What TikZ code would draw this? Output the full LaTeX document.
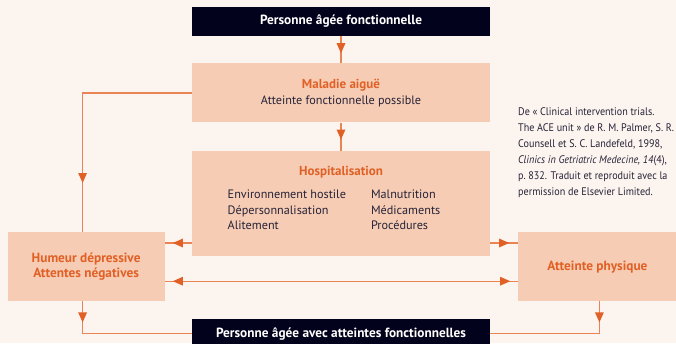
\documentclass[tikz,border=0pt]{standalone}
\usepackage{fontspec}
\setmainfont{PT Sans}
\newfontfamily\citefont[FakeStretch=0.92]{PT Sans}
\usepackage{tikz}
\usetikzlibrary{arrows.meta,positioning,calc,decorations.markings}
\definecolor{bgcream}{RGB}{252,244,238}
\definecolor{peach}{RGB}{246,205,180}
\definecolor{myorange}{RGB}{224,96,38}
\definecolor{lineorange}{RGB}{234,132,84}
\definecolor{mynavy}{RGB}{2,2,28}
\definecolor{inkgray}{RGB}{38,34,56}
\tikzset{
    line/.style    = {draw=lineorange, line width=1.2pt},
    tipat/.style   = {postaction={decorate}, decoration={markings,
            mark=at position #1 with {\arrow{Triangle[length=10pt,width=8.5pt,color=myorange]}}}},
    twotips/.style = {postaction={decorate}, decoration={markings,
            mark=at position 8pt with {\arrowreversed{Triangle[length=10pt,width=8.5pt,color=myorange]}},
            mark=at position -8pt with {\arrow{Triangle[length=10pt,width=8.5pt,color=myorange]}}}},
    darkbox/.style = {fill=mynavy, text=white, font=\fontsize{13.3pt}{15pt}\selectfont\bfseries,
            minimum width=298pt, minimum height=29pt, inner sep=0pt},
    block/.style   = {fill=peach, text=inkgray, align=center,
            minimum width=298pt, inner sep=0pt},
    sidebox/.style = {fill=peach, text=myorange, font=\fontsize{13.3pt}{15pt}\selectfont\bfseries,
            align=center, minimum width=157pt, minimum height=69pt, inner sep=0pt},
}
\newcommand{\boxtitle}[1]{\textcolor{myorange}{\fontsize{13pt}{15pt}\selectfont\bfseries #1}}

\begin{document}
\begin{tikzpicture}[font=\fontsize{12.2pt}{15.4pt}\selectfont]
    % background and page size
    \fill[bgcream] (0,0) rectangle (676pt,-343pt);
    \useasboundingbox (0,0) rectangle (676pt,-343pt);

    % Nodes
    \node[darkbox] (elder) at (341pt,-21.5pt) {Personne âgée fonctionnelle};
    \node[block, minimum height=59pt, below=27pt of elder] (acute)
        {\boxtitle{Maladie aiguë}\\Atteinte fonctionnelle possible};
    \node[block, minimum height=105pt, below=28pt of acute] (hosp)
        {\boxtitle{Hospitalisation}\\[9pt]
         \begin{tabular}{@{}l@{\hspace{25pt}}l@{\hspace{14pt}}}
             Environnement hostile & Malnutrition\\
             Dépersonnalisation    & Médicaments\\
             Alitement             & Procédures\rule[-11pt]{0pt}{11pt}
         \end{tabular}};
    \node[sidebox, anchor=north east] (mood) at ([xshift=-27pt,yshift=24pt]hosp.south west)
        {Humeur dépressive\\Attentes négatives};
    \node[sidebox, minimum width=158pt, anchor=north west] (phys) at ([xshift=28pt,yshift=24pt]hosp.south east)
        {Atteinte physique};
    \node[darkbox, below=63pt of hosp] (impaired) {Personne âgée avec atteintes fonctionnelles};
    \node[anchor=north west, align=left, inner sep=0pt, text=inkgray,
          font=\citefont\fontsize{11pt}{16pt}\selectfont] (source) at (518pt,-107pt)
        {De « Clinical intervention trials.\\
         The ACE unit » de R.~M. Palmer, S.~R.\\
         Counsell et S.~C. Landefeld, 1998,\\
         \textit{Clinics in Getriatric Medecine, 14}(4),\\
         p.~832. Traduit et reproduit avec la\\
         permission de Elsevier Limited.};

    % Arrows
    \draw[line, tipat=-10pt] (elder) -- (acute);
    \draw[line, tipat=-11pt] (acute) -- (hosp);
    \draw[line, tipat=-49pt] (acute.west) -| ([xshift=-3.5pt]mood.north);
    \coordinate (hl) at ([yshift=13pt]hosp.south west);
    \coordinate (hr) at ([yshift=13pt]hosp.south east);
    \draw[line, tipat=-8pt] (hl) -- (hl -| mood.east);
    \draw[line, tipat=-9pt] (hr) -- (hr -| phys.west);
    \coordinate (both) at ([yshift=-14.5pt]mood.east);
    \draw[line, twotips] (both) -- (both -| phys.west);
    \draw[line, tipat=21pt] ([xshift=-3.5pt]mood.south) |- (impaired.west);
    \draw[line, tipat=21pt] ([xshift=2pt]phys.south) |- (impaired.east);
\end{tikzpicture}
\end{document}
